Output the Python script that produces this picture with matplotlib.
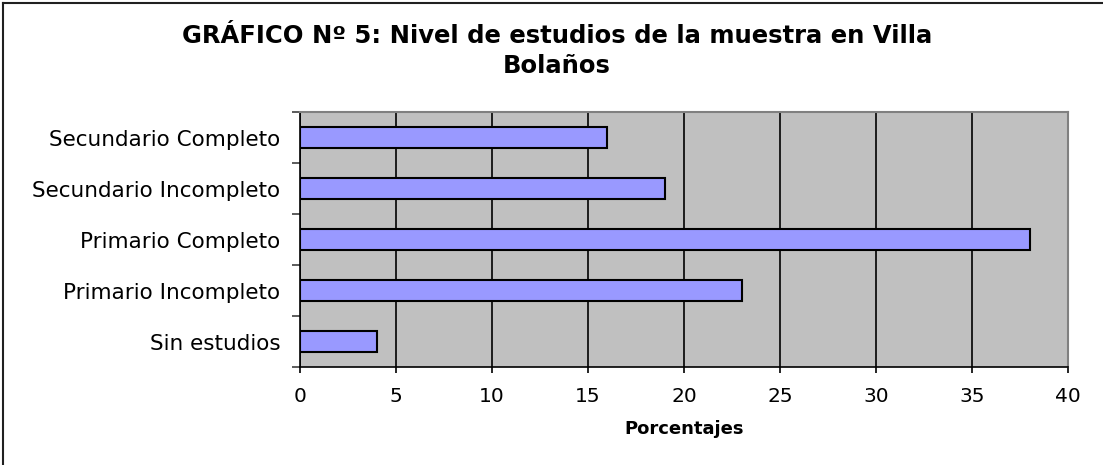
import matplotlib
matplotlib.use("Agg")
from matplotlib import pyplot as plt
from matplotlib.lines import Line2D
import numpy as np

# datos del grafico (de abajo hacia arriba)
categorias = ["Sin estudios", "Primario Incompleto", "Primario Completo",
              "Secundario Incompleto", "Secundario Completo"]
porcentajes = [4, 23, 38, 19, 16]
xticks = [0, 5, 10, 15, 20, 25, 30, 35, 40]

plt.rcParams['font.family'] = ['DejaVu Sans']

fig = plt.figure(figsize=(11.03, 4.65), dpi=100)
ax = fig.add_axes([300/1103, 1-367/465, 768/1103, 255/465])
ax.set_facecolor('#C0C0C0')

y = np.arange(len(categorias))
ax.barh(y, porcentajes, height=0.4, color='#9999FF', edgecolor='black',
        linewidth=1.5, zorder=3)

ax.set_xlim(0, 40)
ax.set_ylim(-0.5, len(categorias)-0.5)
ax.set_xticks(xticks)
ax.set_xticklabels([str(t) for t in xticks], fontsize=14.5)
ax.xaxis.grid(True, color='black', linewidth=1.2, zorder=1)
ax.set_axisbelow(True)

# ticks del eje y en los bordes de cada categoria, etiquetas al centro
ax.set_yticks(np.arange(-0.5, len(categorias), 1))
ax.set_yticklabels([])
ax.set_yticks(y, minor=True)
ax.set_yticklabels(categorias, minor=True, fontsize=15.5)
ax.tick_params(axis='y', which='minor', length=0, pad=14)
ax.tick_params(axis='y', which='major', length=6, width=1.2, color='#404040')
ax.tick_params(axis='x', length=4.5, width=1.2, color='black', pad=10)

for s in ['left', 'bottom']:
    ax.spines[s].set_color('black')
    ax.spines[s].set_linewidth(1.2)
for s in ['top', 'right']:
    ax.spines[s].set_color('#808080')
    ax.spines[s].set_linewidth(1.5)

ax.set_xlabel('Porcentajes', fontsize=13, fontweight='bold', labelpad=10)

fig.text(557/1103, 1-36/465, 'GRÁFICO Nº 5: Nivel de estudios de la muestra en Villa',
         ha='center', va='center', fontsize=17.5, fontweight='bold')
fig.text(557/1103, 1-66/465, 'Bolaños', ha='center', va='center',
         fontsize=17.5, fontweight='bold')

# marco del grafico (recortado abajo y a la derecha)
fig.add_artist(Line2D([3/1103, 1], [1-3/465, 1-3/465], color='#202020', linewidth=1.5))
fig.add_artist(Line2D([3/1103, 3/1103], [0, 1-3/465], color='#202020', linewidth=1.5))

fig.savefig('out.png', dpi=100)
